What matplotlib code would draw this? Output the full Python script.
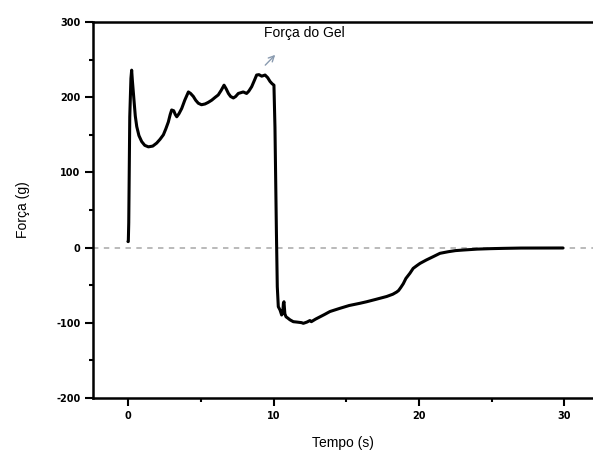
import numpy as np
import matplotlib.pyplot as plt
import matplotlib as mpl
from matplotlib.ticker import MultipleLocator

mpl.rcParams['font.family'] = ['Liberation Sans', 'DejaVu Sans']
mpl.rcParams['axes.unicode_minus'] = False

# curve: time (s) and force (g)
tempo = [0.0, 0.02, 0.05, 0.12, 0.2, 0.25, 0.3, 0.41, 0.5, 0.6, 0.75, 0.94, 1.15, 1.4,
         1.7, 1.97, 2.2, 2.43, 2.6, 2.77, 2.9, 3.0, 3.14, 3.25, 3.35, 3.5, 3.69,
         3.9, 4.15, 4.3, 4.49, 4.65, 4.83, 5.05, 5.29, 5.5, 5.75, 6.0, 6.2, 6.4,
         6.6, 6.75, 6.9, 7.05, 7.24, 7.4, 7.58, 7.92, 8.15, 8.3, 8.5, 8.7, 8.84,
         9.0, 9.19, 9.42, 9.6, 9.76, 9.9, 10.03,
         10.1, 10.2, 10.26, 10.33, 10.45, 10.56, 10.64, 10.68, 10.72, 10.78, 10.86,
         11.0, 11.13, 11.36, 11.6, 11.93, 12.05, 12.3, 12.5, 12.6, 12.9, 13.2, 13.5,
         13.88, 14.2, 14.57, 15.2, 15.95, 16.4, 17.0, 17.78, 18.2, 18.47, 18.6,
         18.75, 18.92, 19.1, 19.38, 19.6, 19.85, 20.07, 20.5, 20.98, 21.44, 22.0,
         22.5, 23.05, 24.0, 24.9, 25.8, 27.0, 29.9]
forca = [8, 8, 33, 174, 225, 236, 222, 196, 175, 161, 149, 141, 136, 134,
         135, 139, 144, 150, 158, 167, 177, 183, 182, 177, 174, 178, 185,
         196, 207, 205, 201, 196, 192, 190, 191, 193, 196, 200, 203, 209,
         216, 211, 205, 201, 199, 201, 205, 207, 205, 208, 214, 223, 229.5,
         230, 228, 229.5, 226, 221, 218, 216,
         160, 20, -52, -78.6, -83, -89.6, -86, -74, -72, -88, -92,
         -94, -96, -98.5, -99, -99.8, -100.7, -99, -97, -98.5, -95, -92, -89,
         -85, -83, -80.7, -77, -74, -72, -69, -65, -62, -59, -57,
         -53, -48, -41, -34, -27.6, -24, -21, -16.5, -12, -7.6, -5.5,
         -4, -3.2, -2, -1.4, -1, -0.6, -0.5]

fig = plt.figure(figsize=(5.93, 4.53), dpi=100)
ax = fig.add_axes([0.157, 0.1214, 0.843, 0.83])

ax.axhline(0, color='#b4b4b4', lw=1.3, ls=(0, (3, 3)), zorder=1)
ax.plot(tempo, forca, color='black', lw=2.2, zorder=3,
        solid_joinstyle='round', solid_capstyle='round')

ax.annotate('', xy=(10.25, 259), xytext=(9.3, 240),
            arrowprops=dict(arrowstyle='->', color='#8a9bb0', lw=1.0))
ax.text(9.35, 285, 'Força do Gel', fontsize=10, va='center', ha='left')

ax.set_xlim(-2.4, 31.96)
ax.set_ylim(-200, 300)
ax.xaxis.set_major_locator(MultipleLocator(10))
ax.xaxis.set_minor_locator(MultipleLocator(5))
ax.yaxis.set_major_locator(MultipleLocator(100))
ax.yaxis.set_minor_locator(MultipleLocator(50))

ax.spines['right'].set_visible(False)
for s in ['left', 'bottom', 'top']:
    ax.spines[s].set_linewidth(1.8)
ax.tick_params(which='both', direction='out', width=1.5, top=False, right=False)
ax.tick_params(which='major', length=6, labelsize=7, pad=3)
ax.tick_params(which='minor', length=3)
for lab in ax.get_xticklabels() + ax.get_yticklabels():
    lab.set_fontweight('bold')
    lab.set_family('DejaVu Sans')

ax.set_xlabel('Tempo (s)', fontsize=10, labelpad=11)
ax.set_ylabel('Força (g)', fontsize=10, labelpad=19)

fig.savefig('out.png', dpi=100)
